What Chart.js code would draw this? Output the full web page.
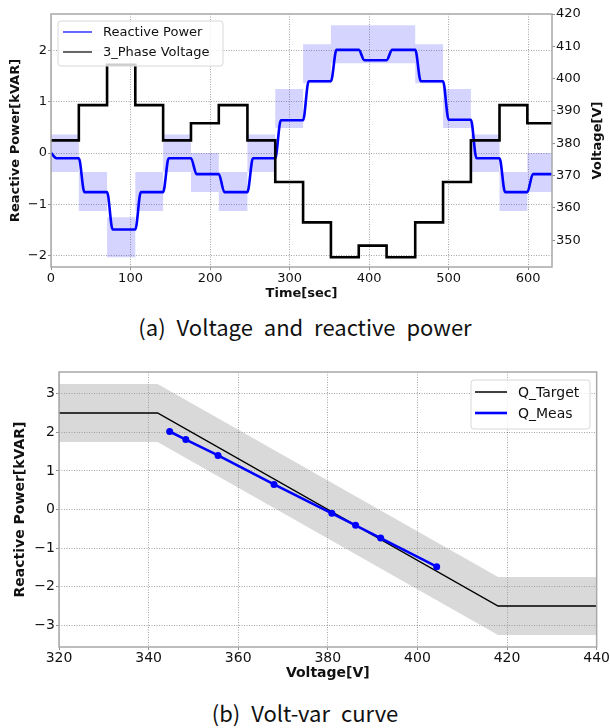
<!DOCTYPE html>
<html>
<head>
<meta charset="utf-8">
<script src="https://cdn.jsdelivr.net/npm/chart.js@4.4.1/dist/chart.umd.min.js"></script>
<style>
  body { margin: 0; background: #fff; width: 610px; height: 728px; position: relative; overflow: hidden; }
  canvas { position: absolute; left: 0; }
  #chart-a { top: 0; }
  #chart-b { top: 350px; }
  .caption {
    position: absolute; left: 0; width: 610px; text-align: center;
    font-family: "Noto Sans CJK KR", sans-serif; font-size: 22px; line-height: 28px;
    color: #111; word-spacing: 6px;
  }
  #cap-a { top: 312px; }
  #cap-b { top: 698px; }
</style>
</head>
<body>
<canvas id="chart-a" width="610" height="305"></canvas>
<div class="caption" id="cap-a">(a) Voltage and reactive power</div>
<canvas id="chart-b" width="610" height="336"></canvas>
<div class="caption" id="cap-b">(b) Volt-var curve</div>
<script>
// (a) one level per ~35 s step
const stepTimes = [0, 35, 70.5, 106, 141, 176, 211, 247, 282, 317, 352, 387, 422, 458, 493, 528, 564, 599];
const endTime = 630;
const voltage = [380.9, 391.8, 404.3, 391.8, 380.9, 386.2, 391.8, 380.9, 368, 355.5, 344.7, 348.3, 344.7, 355.5, 368, 380.9, 391.8, 386.2];
const reactive = [-0.1, -0.76, -1.49, -0.76, -0.1, -0.41, -0.76, -0.1, 0.64, 1.4, 2.01, 1.81, 2.01, 1.4, 0.65, -0.1, -0.76, -0.41];
const bandHigh = [0.36, -0.37, -1.25, -0.37, 0.36, 0.0, -0.37, 0.36, 1.25, 2.12, 2.49, 2.49, 2.49, 2.12, 1.25, 0.36, -0.37, 0.0];
const bandLow = [-0.37, -1.13, -2.03, -1.13, -0.37, -0.76, -1.13, -0.37, 0.49, 1.36, 1.75, 1.75, 1.75, 1.36, 0.49, -0.37, -1.13, -0.76];

// (b) volt-var curve
const curveV = [320, 342, 418, 440];
const targetQ = [2.5, 2.5, -2.5, -2.5];
const targetHigh = [3.25, 3.25, -1.75, -1.75];
const targetLow = [1.75, 1.75, -3.25, -3.25];
const measV = [344.7, 348.3, 355.5, 368, 380.9, 386.2, 391.8, 404.3];
const measQ = [2.02, 1.81, 1.4, 0.65, -0.1, -0.41, -0.74, -1.48];

Chart.defaults.font.family = "DejaVu Sans";
Chart.defaults.color = "#111";

const stepPoints = (vals) => {
  const pts = stepTimes.map((t, i) => ({ x: t, y: vals[i] }));
  pts.push({ x: endTime, y: vals[vals.length - 1] });
  return pts;
};

// measured Q lags each step by a few seconds
const settle = 7;
const reactivePoints = [{ x: 0, y: 0 }];
stepTimes.forEach((t, i) => {
  if (i > 0) reactivePoints.push({ x: t, y: reactive[i - 1] });
  reactivePoints.push({ x: t + settle, y: reactive[i] });
});
reactivePoints.push({ x: endTime, y: reactive[reactive.length - 1] });

const minusSign = (v) => String(v).replace("-", "\u2212");
const gridOpts = { color: "rgba(0,0,0,0.45)", lineWidth: 0.8, tickLength: 3, tickColor: "#777", tickBorderDash: [4, 0] };
const dotted = { display: false, dash: [1, 1.5] };

const framePlugin = {
  id: "frame",
  afterDraw(chart) {
    const { ctx, chartArea: a } = chart;
    ctx.save();
    ctx.strokeStyle = "#a8a8a8";
    ctx.lineWidth = 1.5;
    ctx.strokeRect(a.left, a.top, a.right - a.left, a.bottom - a.top);
    ctx.restore();
  },
};

const boxLegend = {
  id: "boxLegend",
  afterDraw(chart, args, opts) {
    const { ctx } = chart;
    ctx.save();
    ctx.beginPath();
    ctx.roundRect(opts.x, opts.y, opts.w, opts.h, 3);
    ctx.fillStyle = "rgba(255,255,255,0.8)";
    ctx.fill();
    ctx.strokeStyle = "#d8d8d8";
    ctx.lineWidth = 1;
    ctx.stroke();
    ctx.font = opts.font;
    ctx.textBaseline = "middle";
    opts.items.forEach((idx, row) => {
      const ds = chart.data.datasets[idx];
      const y = opts.y + opts.firstRow + row * opts.rowGap;
      ctx.beginPath();
      ctx.moveTo(opts.x + opts.lineX, y);
      ctx.lineTo(opts.x + opts.lineX + opts.lineLen, y);
      ctx.strokeStyle = ds.borderColor;
      ctx.lineWidth = opts.lineWidths[row];
      ctx.stroke();
      ctx.fillStyle = "#111";
      ctx.fillText(ds.label, opts.x + opts.textX, y + 1);
    });
    ctx.restore();
  },
};

// Chart.js turns right-hand titles the other way, so draw this one by hand
const rightTitle = {
  id: "rightTitle",
  afterDraw(chart, args, opts) {
    const { ctx, chartArea: a } = chart;
    ctx.save();
    ctx.translate(opts.x, (a.top + a.bottom) / 2);
    ctx.rotate(-Math.PI / 2);
    ctx.font = "bold 13px 'DejaVu Sans'";
    ctx.fillStyle = "#111";
    ctx.textAlign = "center";
    ctx.textBaseline = "middle";
    ctx.fillText(opts.text, 0, 0);
    ctx.restore();
  },
};

new Chart(document.getElementById("chart-a"), {
  type: "line",
  data: {
    datasets: [
      { label: "band high", data: stepPoints(bandHigh), yAxisID: "q", stepped: true, borderWidth: 0, pointRadius: 0, fill: false, order: 3 },
      { label: "band low", data: stepPoints(bandLow), yAxisID: "q", stepped: true, borderWidth: 0, pointRadius: 0, fill: "-1", backgroundColor: "rgba(0,0,255,0.17)", order: 3 },
      { label: "Reactive Power", data: reactivePoints, yAxisID: "q", borderColor: "#0000ff", borderWidth: 2.6, pointRadius: 0, cubicInterpolationMode: "monotone", order: 2 },
      { label: "3_Phase Voltage", data: stepPoints(voltage), yAxisID: "v", borderColor: "#000000", borderWidth: 2.6, pointRadius: 0, stepped: true, order: 1 },
    ],
  },
  options: {
    responsive: false,
    animation: false,
    devicePixelRatio: 1,
    layout: { padding: { top: 14, left: 0, right: 0, bottom: 0 } },
    scales: {
      x: {
        type: "linear",
        min: 0,
        max: endTime,
        afterFit: (s) => { s.height = 38; },
        ticks: { stepSize: 100, includeBounds: false, font: { size: 13 }, padding: 1, maxRotation: 0 },
        grid: gridOpts,
        border: dotted,
        title: { display: true, text: "Time[sec]", font: { size: 13, weight: "bold" }, padding: { top: 0, bottom: 4 } },
      },
      q: {
        type: "linear",
        position: "left",
        min: -2.22,
        max: 2.71,
        afterFit: (s) => { s.width = 51; },
        ticks: { stepSize: 1, includeBounds: false, font: { size: 13 }, padding: 1, callback: minusSign },
        grid: gridOpts,
        border: dotted,
        title: { display: true, text: "Reactive Power[kVAR]", font: { size: 13, weight: "bold" }, padding: { top: 8, bottom: 0 } },
      },
      v: {
        type: "linear",
        position: "right",
        min: 341.7,
        max: 420,
        afterFit: (s) => { s.width = 58; },
        ticks: { stepSize: 10, includeBounds: false, font: { size: 13 }, padding: 1 },
        grid: { ...gridOpts, drawOnChartArea: false },
        border: dotted,
      },
    },
    plugins: {
      legend: { display: false },
      tooltip: { enabled: false },
      boxLegend: { x: 58, y: 21, w: 165, h: 45, firstRow: 11, rowGap: 20, lineX: 5, lineLen: 29, textX: 45, font: "13px 'DejaVu Sans'", items: [2, 3], lineWidths: [1.2, 1.2] },
      rightTitle: { x: 598, text: "Voltage[V]" },
    },
  },
  plugins: [framePlugin, rightTitle, boxLegend],
});

const toXY = (xs, ys) => xs.map((x, i) => ({ x: x, y: ys[i] }));

new Chart(document.getElementById("chart-b"), {
  type: "line",
  data: {
    datasets: [
      { label: "band high", data: toXY(curveV, targetHigh), borderWidth: 0, pointRadius: 0, fill: false, order: 3 },
      { label: "band low", data: toXY(curveV, targetLow), borderWidth: 0, pointRadius: 0, fill: "-1", backgroundColor: "rgba(150,150,150,0.36)", order: 3 },
      { label: "Q_Target", data: toXY(curveV, targetQ), borderColor: "#000000", borderWidth: 1.5, pointRadius: 0, order: 1 },
      { label: "Q_Meas", data: toXY(measV, measQ), borderColor: "#0000ff", backgroundColor: "#0000ff", borderWidth: 2.6, pointRadius: 3.5, pointBorderWidth: 0, order: 0 },
    ],
  },
  options: {
    responsive: false,
    animation: false,
    devicePixelRatio: 1,
    layout: { padding: { top: 22, left: 0, right: 13, bottom: 0 } },
    scales: {
      x: {
        type: "linear",
        min: 320,
        max: 440,
        afterFit: (s) => { s.height = 39; },
        ticks: { stepSize: 20, font: { size: 14 }, padding: 0, maxRotation: 0 },
        grid: gridOpts,
        border: dotted,
        title: { display: true, text: "Voltage[V]", font: { size: 14, weight: "bold" }, padding: { top: 0, bottom: 4 } },
      },
      y: {
        type: "linear",
        min: -3.56,
        max: 3.56,
        afterFit: (s) => { s.width = 59; },
        ticks: { stepSize: 1, includeBounds: false, font: { size: 14 }, padding: 1, callback: minusSign },
        grid: gridOpts,
        border: dotted,
        title: { display: true, text: "Reactive Power[kVAR]", font: { size: 14, weight: "bold" }, padding: { top: 12, bottom: 0 } },
      },
    },
    plugins: {
      legend: { display: false },
      tooltip: { enabled: false },
      boxLegend: { x: 471, y: 30, w: 119, h: 49, firstRow: 12, rowGap: 21, lineX: 4, lineLen: 32, textX: 47, font: "14px 'DejaVu Sans'", items: [2, 3], lineWidths: [1.5, 2.6] },
    },
  },
  plugins: [framePlugin, boxLegend],
});
</script>
</body>
</html>
